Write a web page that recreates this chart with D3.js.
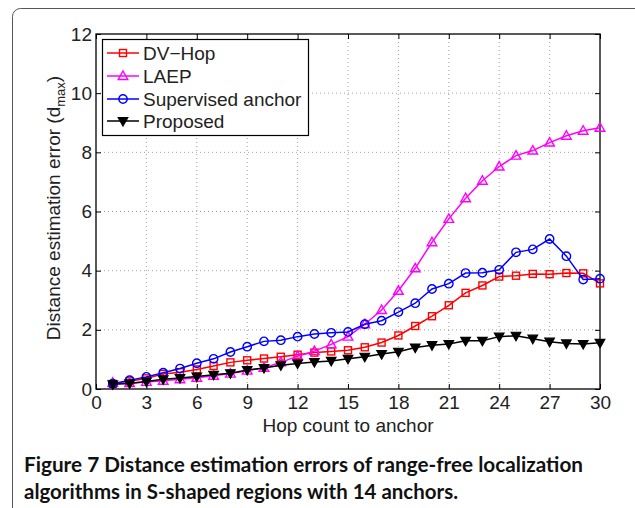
<!DOCTYPE html>
<html><head><meta charset="utf-8">
<script src="https://cdn.jsdelivr.net/npm/d3@7"></script>
<style>body{margin:0;background:#fff}svg{display:block}</style>
</head><body>
<svg id="c" width="635" height="508"></svg>
<script>
const hops = d3.range(1, 31);
const dvHop = [0.17,0.26,0.36,0.51,0.57,0.66,0.78,0.90,0.97,1.03,1.09,1.16,1.23,1.27,1.31,1.41,1.57,1.81,2.13,2.46,2.83,3.25,3.50,3.80,3.83,3.89,3.88,3.92,3.91,3.57];
const laep = [0.21,0.20,0.24,0.28,0.33,0.38,0.45,0.52,0.62,0.72,0.90,1.11,1.28,1.51,1.77,2.19,2.67,3.32,4.08,4.96,5.75,6.45,7.04,7.52,7.89,8.06,8.33,8.56,8.73,8.83];
const supervised = [0.18,0.30,0.41,0.55,0.69,0.87,1.02,1.25,1.43,1.61,1.65,1.77,1.86,1.90,1.93,2.19,2.31,2.60,2.90,3.38,3.56,3.92,3.93,4.03,4.62,4.72,5.07,4.49,3.70,3.73];
const proposed = [0.16,0.19,0.25,0.33,0.37,0.42,0.48,0.53,0.64,0.71,0.80,0.86,0.91,0.95,1.02,1.09,1.18,1.26,1.40,1.48,1.52,1.63,1.63,1.77,1.80,1.70,1.60,1.54,1.52,1.56];
const xTicks = [0,3,6,9,12,15,18,21,24,27,30];
const yTicks = [0,2,4,6,8,10,12];
const seriesNames = ["DV\u2212Hop","LAEP","Supervised anchor","Proposed"];
const seriesColors = ["#ff0000","#ff00ff","#0000ff","#000000"];
const seriesMarkers = ["square","triangleUp","circle","triangleDown"];
const seriesValues = [dvHop, laep, supervised, proposed];

const svg = d3.select("#c");
const L = 96, R = 600, T = 34, B = 389;
const x = d3.scaleLinear().domain([0,30]).range([L,R]);
const y = d3.scaleLinear().domain([0,12]).range([B,T]);
const axisFont = "'Liberation Sans', Arial, Helvetica, sans-serif";
const FS = 19;

// outer figure frame
svg.append("rect").attr("x",12.5).attr("y",8.5).attr("width",700).attr("height",600)
  .attr("rx",8).attr("fill","none").attr("stroke","#555").attr("stroke-width",1);

// grid
const g = svg.append("g");
g.selectAll("line.gx").data(xTicks.slice(1,-1)).join("line")
  .attr("x1",d=>x(d)).attr("x2",d=>x(d)).attr("y1",T).attr("y2",B)
  .attr("stroke","#888").attr("stroke-width",0.8).attr("stroke-dasharray","1,3");
g.selectAll("line.gy").data(yTicks.slice(1,-1)).join("line")
  .attr("y1",d=>y(d)).attr("y2",d=>y(d)).attr("x1",L).attr("x2",R)
  .attr("stroke","#888").attr("stroke-width",0.8).attr("stroke-dasharray","1,3");

// axes
const ax = d3.axisBottom(x).tickValues(xTicks).tickSize(-5).tickPadding(7);
const axT = d3.axisTop(x).tickValues(xTicks).tickSize(-5).tickFormat("");
const ay = d3.axisLeft(y).tickValues(yTicks).tickSize(-5).tickPadding(4);
const ayR = d3.axisRight(y).tickValues(yTicks).tickSize(-5).tickFormat("");
function styleAxis(sel){
  sel.select(".domain").remove();
  sel.selectAll("line").attr("stroke","#000");
  sel.selectAll("text").attr("font-family",axisFont).attr("font-size",FS).attr("fill","#222");
}
svg.append("g").attr("transform",`translate(0,${B})`).call(ax).call(styleAxis);
svg.append("g").attr("transform",`translate(0,${T})`).call(axT).call(styleAxis);
svg.append("g").attr("transform",`translate(${L},0)`).call(ay).call(styleAxis);
svg.append("g").attr("transform",`translate(${R},0)`).call(ayR).call(styleAxis);
svg.append("rect").attr("x",L).attr("y",T).attr("width",R-L).attr("height",B-T)
  .attr("fill","none").attr("stroke","#000").attr("stroke-width",1.3);

// marker drawing
function drawMarker(sel, type, color){
  if(type==="square"){
    sel.append("rect").attr("x",-3.5).attr("y",-3.5).attr("width",7).attr("height",7)
      .attr("fill","none").attr("stroke",color).attr("stroke-width",1.4);
  } else if(type==="circle"){
    sel.append("circle").attr("r",4.2).attr("fill","none").attr("stroke",color).attr("stroke-width",1.4);
  } else if(type==="triangleUp"){
    sel.append("path").attr("d","M0,-5L4.8,3.5L-4.8,3.5Z").attr("fill","none").attr("stroke",color).attr("stroke-width",1.4);
  } else {
    sel.append("path").attr("d","M0,5L4.8,-3.5L-4.8,-3.5Z").attr("fill",color).attr("stroke",color).attr("stroke-width",1.2);
  }
}

const line = d3.line().x((d,i)=>x(hops[i])).y(d=>y(d));
const plot = svg.append("g");
seriesValues.forEach((vals, si)=>{
  plot.append("path").datum(vals).attr("d",line).attr("fill","none")
    .attr("stroke",seriesColors[si]).attr("stroke-width",1.5);
  vals.forEach((v,i)=>{
    const m = plot.append("g").attr("transform",`translate(${x(hops[i])},${y(v)})`);
    drawMarker(m, seriesMarkers[si], seriesColors[si]);
  });
});

// legend
const lg = svg.append("g");
lg.append("rect").attr("x",102.5).attr("y",39.5).attr("width",206).attr("height",96)
  .attr("fill","#fff").attr("stroke","#000").attr("stroke-width",1.2);
const rowsY = [53,76,99,121];
seriesNames.forEach((n,i)=>{
  lg.append("line").attr("x1",107).attr("x2",139).attr("y1",rowsY[i]).attr("y2",rowsY[i])
    .attr("stroke",seriesColors[i]).attr("stroke-width",1.5);
  const m = lg.append("g").attr("transform",`translate(123,${rowsY[i]})`);
  drawMarker(m, seriesMarkers[i], seriesColors[i]);
  lg.append("text").attr("x",143).attr("y",rowsY[i]+6.5).text(n)
    .attr("font-family",axisFont).attr("font-size",FS).attr("fill","#222");
});

// axis labels
svg.append("text").attr("x",(L+R)/2).attr("y",432).attr("text-anchor","middle")
  .attr("font-family",axisFont).attr("font-size",FS).attr("fill","#222").text("Hop count to anchor");
const yl = svg.append("text").attr("transform",`translate(60,208) rotate(-90)`)
  .attr("text-anchor","middle").attr("font-family",axisFont).attr("font-size",FS).attr("fill","#222");
yl.append("tspan").text("Distance estimation error (d");
yl.append("tspan").attr("font-size",13).attr("dy",5).text("max");
yl.append("tspan").attr("dy",-5).text(")");

// caption
const capFont = "Lato, 'Open Sans', sans-serif";
svg.append("text").attr("x",24).attr("y",472).attr("font-family",capFont).attr("font-size",20)
  .attr("font-weight","bold").attr("fill","#111")
  .attr("textLength",559).attr("lengthAdjust","spacingAndGlyphs")
  .text("Figure 7 Distance estimation errors of range-free localization");
svg.append("text").attr("x",24).attr("y",499).attr("font-family",capFont).attr("font-size",20)
  .attr("font-weight","bold").attr("fill","#111")
  .attr("textLength",434).attr("lengthAdjust","spacingAndGlyphs")
  .text("algorithms in S-shaped regions with 14 anchors.");
</script>
</body></html>
